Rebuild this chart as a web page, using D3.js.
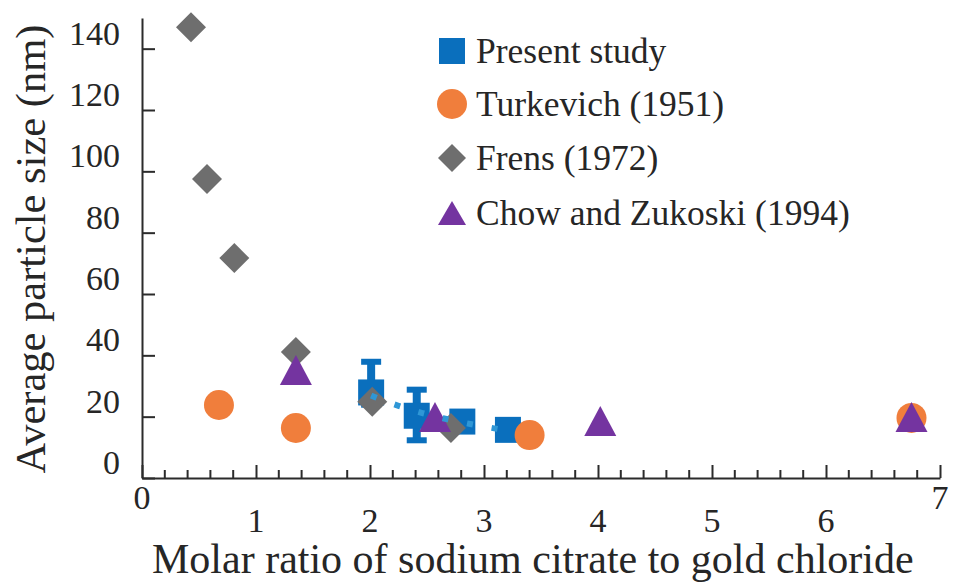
<!DOCTYPE html>
<html><head><meta charset="utf-8">
<script src="https://cdn.jsdelivr.net/npm/d3@7"></script>
<style>
body{margin:0;background:#fff}
text{font-family:"Liberation Serif","Times New Roman",serif;fill:#262626}
</style>
</head><body><svg id="chart" width="957" height="582"></svg>
<script>
// Average gold nanoparticle size vs. citrate : gold molar ratio
const presentX = [2.01, 2.41, 2.81, 3.21];
const presentY = [27.9, 20.3, 18.4, 15.7];
const presentErrUp = [10, 8.5, 2, 2];
const presentErrDown = [4, 8, 2, 2];
const turkevichX = [0.675, 1.35, 3.40, 6.75];
const turkevichY = [23.8, 16.3, 14.0, 19.6];
const frensX = [0.43, 0.57, 0.81, 1.35, 2.02, 2.71];
const frensY = [147, 97.5, 71.7, 41.1, 24.9, 16.3];
const chowX = [1.35, 2.57, 4.02, 6.75];
const chowY = [35.2, 19.9, 18.6, 19.9];
const xTickValues = [0, 1, 2, 3, 4, 5, 6, 7];
const yTickValues = [0, 20, 40, 60, 80, 100, 120, 140];
const seriesNames = ["Present study", "Turkevich (1951)", "Frens (1972)", "Chow and Zukoski (1994)"];

const colors = {present: "#0a6fbd", trend: "#2f97d6", turk: "#f07e3c", frens: "#6e6e6e", chow: "#7434a0"};
const svg = d3.select("#chart");
const x = d3.scaleLinear().domain([0, 7]).range([142, 940]);
const y = d3.scaleLinear().domain([0, 150]).range([478, 18]);
const axisColor = "#2b2b2b";

// axes: ticks point into the plot
const gx = svg.append("g").attr("transform", `translate(0,${y(0)})`)
  .call(d3.axisBottom(x).tickValues(xTickValues).tickSize(-13).tickSizeOuter(0).tickFormat(""));
const minor = d3.range(1, 35).map(i => i / 5).filter(v => Math.abs(v - Math.round(v)) > 1e-6);
gx.selectAll(".minor").data(minor).join("line").attr("class", "minor")
  .attr("x1", d => x(d)).attr("x2", d => x(d)).attr("y1", 0).attr("y2", -8);
const gy = svg.append("g").attr("transform", `translate(${x(0)},0)`)
  .call(d3.axisLeft(y).tickValues(yTickValues).tickSize(-13).tickSizeOuter(0).tickFormat(""));
[gx, gy].forEach(g => {
  g.selectAll("path,line").attr("stroke", axisColor).attr("stroke-width", 2);
});

// tick labels
svg.append("g").selectAll("text").data(yTickValues).join("text")
  .attr("x", 120).attr("y", d => y(d) - 4).attr("text-anchor", "end")
  .attr("font-size", 34).text(d => d);
svg.append("g").selectAll("text").data(xTickValues).join("text")
  .attr("x", d => x(d)).attr("y", d => (d === 0 || d === 7) ? 509 : 532)
  .attr("text-anchor", "middle").attr("font-size", 34).text(d => d);

// axis titles
svg.append("text").attr("x", 152).attr("y", 573).attr("font-size", 42)
  .text("Molar ratio of sodium citrate to gold chloride");
svg.append("text").attr("transform", "translate(45,249) rotate(-90)")
  .attr("text-anchor", "middle").attr("font-size", 42.5)
  .text("Average particle size (nm)");

// marker shapes
const squarePath = s => `M${-s/2},${-s/2}h${s}v${s}h${-s}Z`;
const diamondPath = s => `M0,${-s/2}L${s/2},0L0,${s/2}L${-s/2},0Z`;
const trianglePath = (w, h) => `M0,${-h/2}L${w/2},${h/2}L${-w/2},${h/2}Z`;

const plot = svg.append("g");

// present study: error bars + squares
const present = presentX.map((v, i) => ({x: v, y: presentY[i], up: presentErrUp[i], dn: presentErrDown[i]}));
const eb = plot.append("g").selectAll("g").data(present).join("g")
  .attr("transform", d => `translate(${x(d.x)},0)`);
eb.append("rect").attr("x", -4).attr("width", 8)
  .attr("y", d => y(d.y + d.up)).attr("height", d => y(d.y - d.dn) - y(d.y + d.up))
  .attr("fill", colors.present);
eb.append("rect").attr("x", -10).attr("width", 20).attr("height", 6)
  .attr("y", d => y(d.y + d.up) - 3).attr("fill", colors.present);
eb.append("rect").attr("x", -10).attr("width", 20).attr("height", 6)
  .attr("y", d => y(d.y - d.dn) - 3).attr("fill", colors.present);
plot.append("g").selectAll("path").data(present).join("path")
  .attr("d", squarePath(26)).attr("fill", colors.present)
  .attr("transform", d => `translate(${x(d.x)},${y(d.y)})`);

// Turkevich circles
plot.append("g").selectAll("circle").data(turkevichX.map((v, i) => [v, turkevichY[i]])).join("circle")
  .attr("cx", d => x(d[0])).attr("cy", d => y(d[1])).attr("r", 15).attr("fill", colors.turk);

// Frens diamonds
plot.append("g").selectAll("path").data(frensX.map((v, i) => [v, frensY[i]])).join("path")
  .attr("d", diamondPath(30)).attr("fill", colors.frens)
  .attr("transform", d => `translate(${x(d[0])},${y(d[1])})`);

// Chow and Zukoski triangles
plot.append("g").selectAll("path").data(chowX.map((v, i) => [v, chowY[i]])).join("path")
  .attr("d", trianglePath(32, 30)).attr("fill", colors.chow)
  .attr("transform", d => `translate(${x(d[0])},${y(d[1])})`);

// power-law trendline through the present-study points
const lx = presentX.map(Math.log), ly = presentY.map(Math.log);
const mx = d3.mean(lx), my = d3.mean(ly);
const b = d3.sum(lx.map((v, i) => (v - mx) * (ly[i] - my))) / d3.sum(lx.map(v => (v - mx) ** 2));
const a = Math.exp(my - b * mx);
const trendPts = d3.range(0, 41).map(i => {
  const xv = presentX[0] + (presentX[3] - presentX[0]) * i / 40;
  return [xv, a * Math.pow(xv, b)];
});
plot.append("path").datum(trendPts)
  .attr("d", d3.line().x(d => x(d[0])).y(d => y(d[1])))
  .attr("fill", "none").attr("stroke", colors.trend).attr("stroke-width", 6)
  .attr("stroke-dasharray", "6 19");

// legend
const legendRows = [
  {name: seriesNames[0], cy: 51, draw: g => g.append("path").attr("d", squarePath(26)).attr("fill", colors.present)},
  {name: seriesNames[1], cy: 104, draw: g => g.append("circle").attr("r", 15).attr("fill", colors.turk)},
  {name: seriesNames[2], cy: 158, draw: g => g.append("path").attr("d", diamondPath(28)).attr("fill", colors.frens)},
  {name: seriesNames[3], cy: 213, draw: g => g.append("path").attr("d", trianglePath(28, 24)).attr("fill", colors.chow)}
];
const lg = svg.append("g").selectAll("g").data(legendRows).join("g")
  .attr("transform", d => `translate(452,${d.cy})`);
lg.each(function(d) { d.draw(d3.select(this)); });
lg.append("text").attr("x", 24).attr("y", 12).attr("font-size", 35.5).text(d => d.name);
</script>
</body></html>
